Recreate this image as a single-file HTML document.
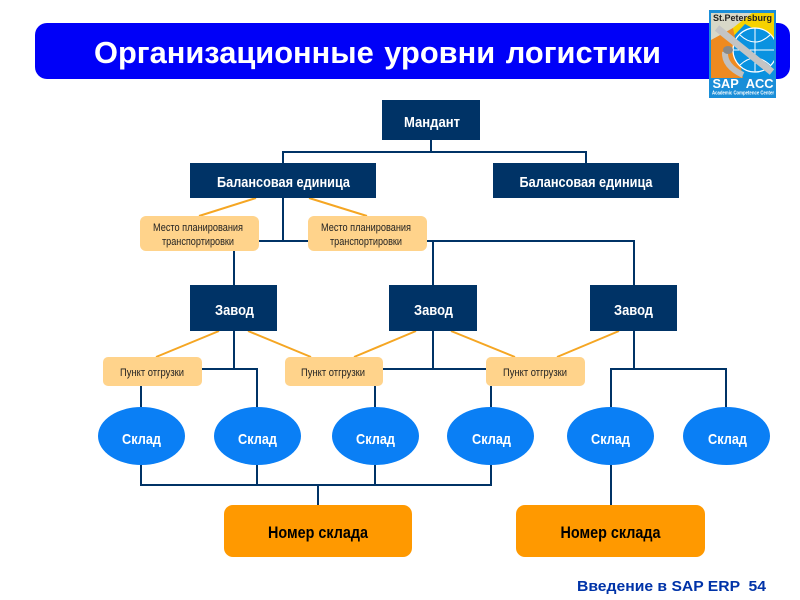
<!DOCTYPE html>
<html><head><meta charset="utf-8"><style>
html,body{margin:0;padding:0;background:#fff}
svg{display:block}
text{font-family:"Liberation Sans",sans-serif}
.w{fill:#fff;font-weight:bold;font-size:15px;text-anchor:middle}
.s{fill:#222;font-size:11px;text-anchor:middle}
.n{fill:#000;font-weight:bold;font-size:16.5px;text-anchor:middle}
</style></head><body>
<svg width="800" height="600" viewBox="0 0 800 600" xmlns="http://www.w3.org/2000/svg">
<defs><clipPath id="lg"><rect x="711" y="13" width="63" height="65"/></clipPath></defs>
<rect x="35" y="23" width="755" height="56" rx="12" fill="#0000f8"/>
<text x="377.500" y="63" fill="#fff" font-size="30.500" font-weight="bold" text-anchor="middle" word-spacing="2" textLength="567" lengthAdjust="spacingAndGlyphs">Организационные уровни логистики</text>
<!-- logo -->
<rect x="709" y="10" width="67" height="88" fill="#1a8ed8"/>
<g clip-path="url(#lg)">
<rect x="711" y="13" width="63" height="65" fill="#0a92e0"/>
<polygon points="711,13 774,13 774,40 745,24 711,60" fill="#f6d200"/>
<polygon points="711,13 752,13 711,45" fill="#d8d8c8"/>
<polygon points="711,40 733,28 743,78 711,78" fill="#ee8a20"/>
<circle cx="755" cy="50" r="22" fill="#0a92e0" stroke="#fff" stroke-width="1.200"/>
<path d="M733 50h44M755 28v44M740 35q15 14 30 0M740 65q15-14 30 0" fill="none" stroke="#fff" stroke-width="1"/>
<polyline points="717,28 772,72" stroke="#c4c4c4" stroke-width="7" fill="none"/>
<path d="M725 52q-1 14 18 23" stroke="#c0c0c0" stroke-width="6" fill="none"/>
<ellipse cx="728" cy="50" rx="5" ry="4" fill="#888"/>
</g>
<text x="742.500" y="21" fill="#222" font-size="9.500" font-weight="bold" text-anchor="middle" textLength="59" lengthAdjust="spacingAndGlyphs">St.Petersburg</text>
<text x="743" y="88" fill="#fff" font-size="12.500" font-weight="bold" text-anchor="middle" word-spacing="4" textLength="61" lengthAdjust="spacingAndGlyphs">SAP ACC</text>
<text x="743" y="94.500" fill="#fff" font-size="5" font-weight="bold" text-anchor="middle" textLength="62" lengthAdjust="spacingAndGlyphs">Academic Competence Center</text>
<!-- navy connectors -->
<g fill="none" stroke="#003366" stroke-width="2">
<path d="M431 140V152M283 163V152H586V163"/>
<path d="M283 198V241M258 241H634V285M433 241V285M234 251V285"/>
<path d="M234 331V369M202 369H257V407M433 331V369M383 369H486M141 386V407M375 386V407M491 386V407"/>
<path d="M634 331V369M611 407V369H726V407"/>
<path d="M141 465V485H491V465M257 465V485M375 465V485M318 485V505M611 465V505"/>
</g>
<!-- orange connectors -->
<g stroke="#f5a623" stroke-width="2" fill="none">
<path d="M256 198L199 216M309 198L367 216"/>
<path d="M219 331L156 357M248 331L311 357M416 331L354 357M451 331L515 357M619 331L557 357"/>
</g>
<!-- navy boxes -->
<g fill="#003366">
<rect x="382" y="100" width="98" height="40"/>
<rect x="190" y="163" width="186" height="35"/>
<rect x="493" y="163" width="186" height="35"/>
<rect x="190" y="285" width="87" height="46"/>
<rect x="389" y="285" width="88" height="46"/>
<rect x="590" y="285" width="87" height="46"/>
</g>
<text class="w" x="432" y="127" textLength="56" lengthAdjust="spacingAndGlyphs">Мандант</text>
<text class="w" x="283.500" y="187" textLength="133" lengthAdjust="spacingAndGlyphs">Балансовая единица</text>
<text class="w" x="586" y="187" textLength="133" lengthAdjust="spacingAndGlyphs">Балансовая единица</text>
<text class="w" x="234.500" y="315" textLength="39" lengthAdjust="spacingAndGlyphs">Завод</text>
<text class="w" x="433.500" y="315" textLength="39" lengthAdjust="spacingAndGlyphs">Завод</text>
<text class="w" x="633.500" y="315" textLength="39" lengthAdjust="spacingAndGlyphs">Завод</text>
<!-- light boxes -->
<g fill="#ffd38b">
<rect x="140" y="216" width="119" height="35" rx="6"/>
<rect x="308" y="216" width="119" height="35" rx="6"/>
<rect x="103" y="357" width="99" height="29" rx="5"/>
<rect x="285" y="357" width="98" height="29" rx="5"/>
<rect x="486" y="357" width="99" height="29" rx="5"/>
</g>
<text class="s" x="198" y="231" textLength="90" lengthAdjust="spacingAndGlyphs">Место планирования</text>
<text class="s" x="198" y="245" textLength="72" lengthAdjust="spacingAndGlyphs">транспортировки</text>
<text class="s" x="366" y="231" textLength="90" lengthAdjust="spacingAndGlyphs">Место планирования</text>
<text class="s" x="366" y="245" textLength="72" lengthAdjust="spacingAndGlyphs">транспортировки</text>
<text class="s" x="152" y="376" textLength="64" lengthAdjust="spacingAndGlyphs">Пункт отгрузки</text>
<text class="s" x="333" y="376" textLength="64" lengthAdjust="spacingAndGlyphs">Пункт отгрузки</text>
<text class="s" x="535" y="376" textLength="64" lengthAdjust="spacingAndGlyphs">Пункт отгрузки</text>
<!-- ellipses -->
<g fill="#0a7ff5">
<ellipse cx="141.500" cy="436" rx="43.500" ry="29"/>
<ellipse cx="257.500" cy="436" rx="43.500" ry="29"/>
<ellipse cx="375.500" cy="436" rx="43.500" ry="29"/>
<ellipse cx="490.500" cy="436" rx="43.500" ry="29"/>
<ellipse cx="610.500" cy="436" rx="43.500" ry="29"/>
<ellipse cx="726.500" cy="436" rx="43.500" ry="29"/>
</g>
<g>
<text class="w" x="141.500" y="444" textLength="39" lengthAdjust="spacingAndGlyphs">Склад</text>
<text class="w" x="257.500" y="444" textLength="39" lengthAdjust="spacingAndGlyphs">Склад</text>
<text class="w" x="375.500" y="444" textLength="39" lengthAdjust="spacingAndGlyphs">Склад</text>
<text class="w" x="491.500" y="444" textLength="39" lengthAdjust="spacingAndGlyphs">Склад</text>
<text class="w" x="610.500" y="444" textLength="39" lengthAdjust="spacingAndGlyphs">Склад</text>
<text class="w" x="727.500" y="444" textLength="39" lengthAdjust="spacingAndGlyphs">Склад</text>
</g>
<!-- bottom boxes -->
<rect x="224" y="505" width="188" height="52" rx="9" fill="#ff9900"/>
<rect x="516" y="505" width="189" height="52" rx="9" fill="#ff9900"/>
<text class="n" x="318" y="538" textLength="100" lengthAdjust="spacingAndGlyphs">Номер склада</text>
<text class="n" x="610.500" y="538" textLength="100" lengthAdjust="spacingAndGlyphs">Номер склада</text>
<text x="766" y="591" fill="#0033a8" font-size="15" font-weight="bold" text-anchor="end" textLength="189" lengthAdjust="spacingAndGlyphs" xml:space="preserve">Введение в SAP ERP  54</text>
</svg>
</body></html>
